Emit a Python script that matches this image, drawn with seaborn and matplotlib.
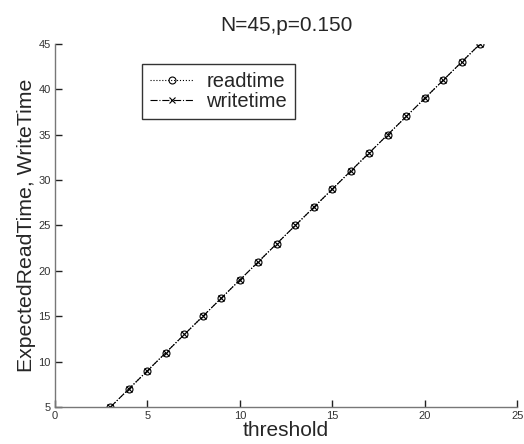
import matplotlib
matplotlib.use("Agg")
import matplotlib.pyplot as plt
import seaborn as sns

threshold = [3, 4, 5, 6, 7, 8, 9, 10, 11, 12, 13, 14, 15, 16, 17, 18, 19, 20, 21, 22, 23]
readtime = [5, 7, 9, 11, 13, 15, 17, 19, 21, 23, 25, 27, 29, 31, 33, 35, 37, 39, 41, 43, 45]
writetime = [5, 7, 9, 11, 13, 15, 17, 19, 21, 23, 25, 27, 29, 31, 33, 35, 37, 39, 41, 43, 45]
xticks = [0, 5, 10, 15, 20, 25]
yticks = [5, 10, 15, 20, 25, 30, 35, 40, 45]

sns.set_style("white")
plt.rcParams["font.family"] = ["Liberation Sans", "DejaVu Sans"]
plt.rcParams["xtick.bottom"] = True
plt.rcParams["ytick.left"] = True

fig = plt.figure(figsize=(5.24, 4.44), dpi=100)
ax = fig.add_axes([0.105, 0.0833, 0.882, 0.818])

sns.lineplot(x=threshold, y=readtime, ax=ax, color="k", linestyle=":", linewidth=0.8,
             marker="o", markersize=5, markerfacecolor="none", markeredgecolor="k",
             markeredgewidth=0.8, label="readtime")
sns.lineplot(x=threshold, y=writetime, ax=ax, color="k", linestyle="-.", linewidth=0.8,
             marker="x", markersize=5, markeredgecolor="k", markeredgewidth=0.8,
             label="writetime")

ax.set_xlim(0, 25)
ax.set_ylim(5, 45)
ax.set_xticks(xticks)
ax.set_yticks(yticks)
ax.tick_params(bottom=True, left=True, direction="in", length=5, width=1.0,
               colors="#222222", labelsize=8, labelcolor="#333333", pad=3)
for side in ("top", "right"):
    ax.spines[side].set_visible(False)
for side in ("left", "bottom"):
    ax.spines[side].set_color("#777777")
    ax.spines[side].set_linewidth(1.0)

ax.set_xlabel("threshold", fontsize=15, labelpad=0)
ax.set_ylabel("ExpectedReadTime, WriteTime", fontsize=15.3, labelpad=2)
ax.set_title("N=45,p=0.150", fontsize=15, pad=9)

leg = ax.legend(loc="upper left", bbox_to_anchor=(0.188, 0.945), borderaxespad=0,
                fontsize=14.5, frameon=True, fancybox=False, handlelength=2.2,
                labelspacing=0.05, borderpad=0.4, handletextpad=0.6)
leg.get_frame().set_edgecolor("k")
leg.get_frame().set_linewidth(1.0)

fig.savefig("out.png", dpi=100)
